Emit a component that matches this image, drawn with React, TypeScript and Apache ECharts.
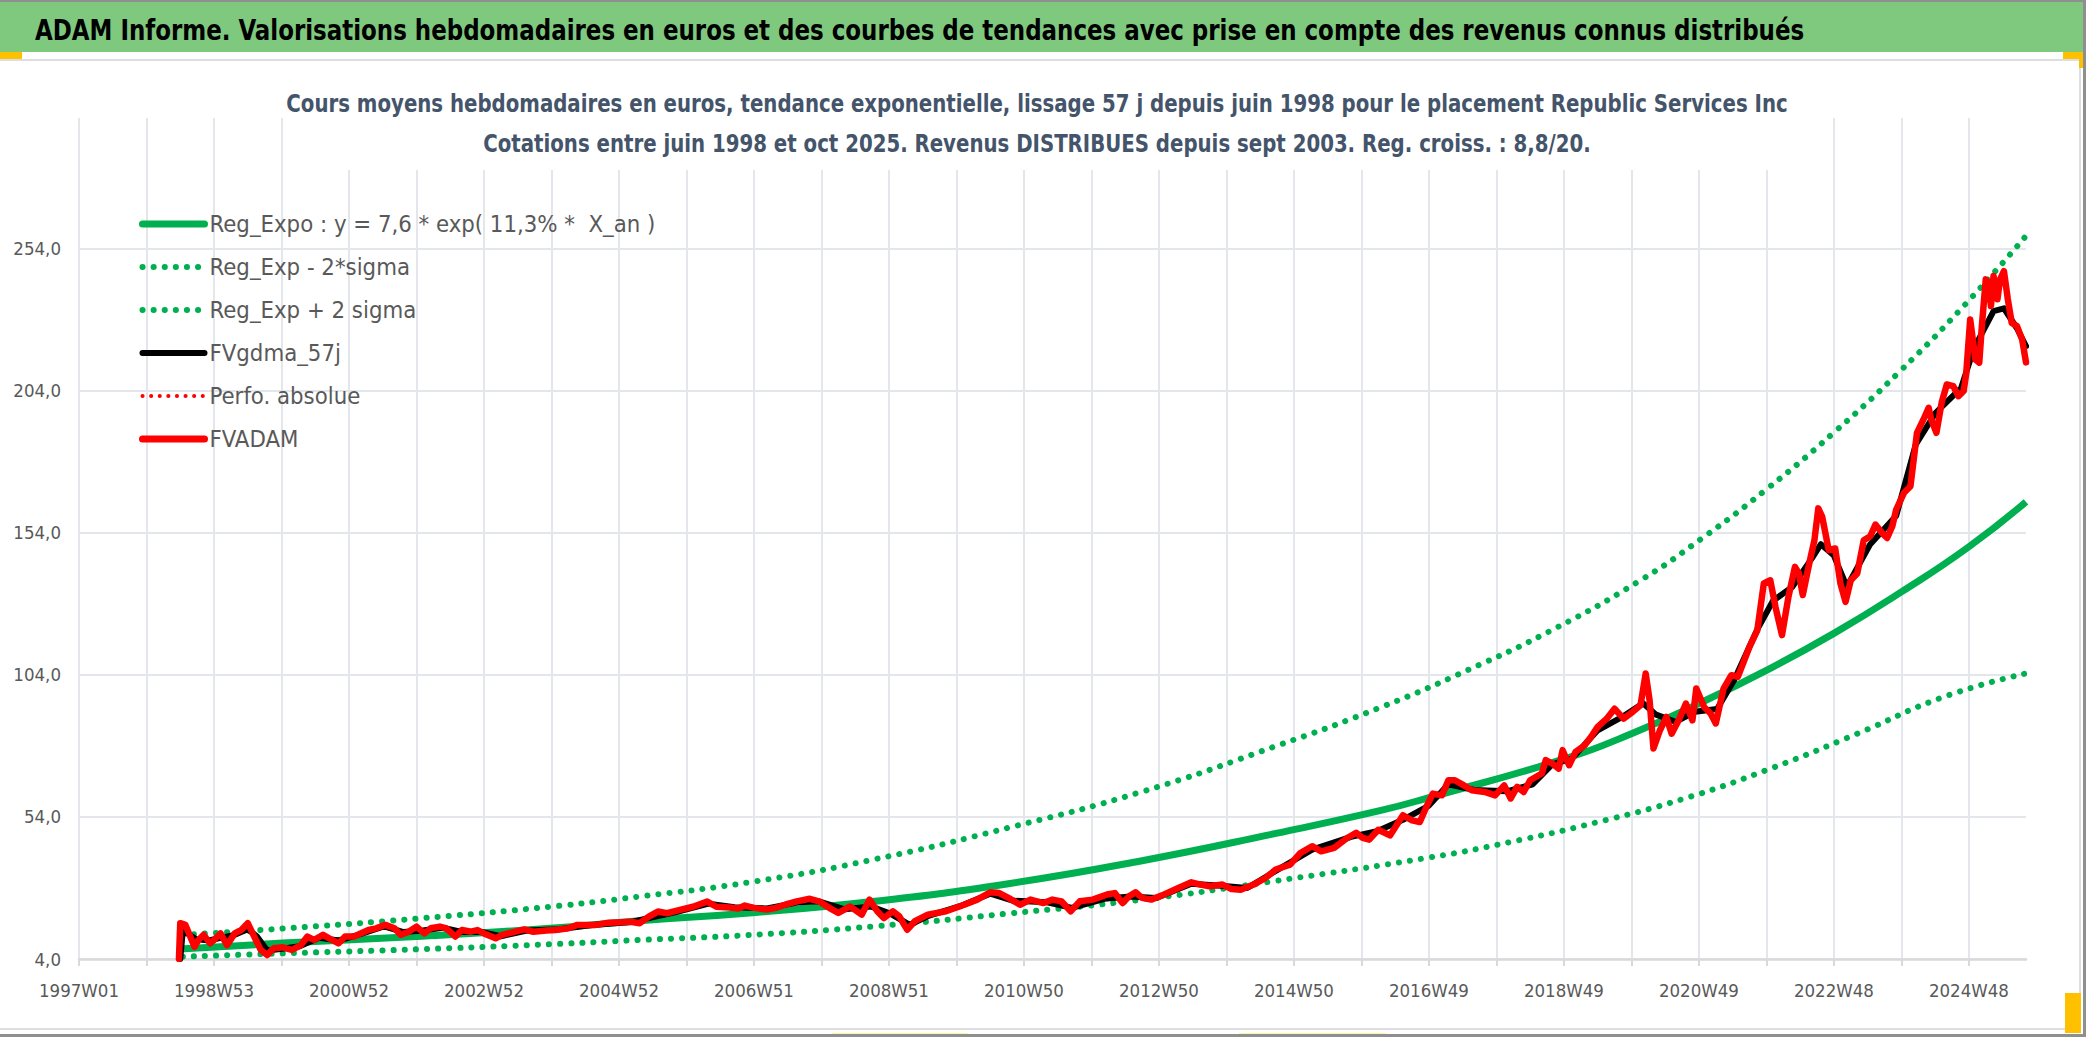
import React, { useEffect, useRef } from "react";
import * as echarts from "echarts";

const TITLE =
  "ADAM Informe. Valorisations hebdomadaires en euros et des courbes de tendances avec prise en compte des revenus connus distribués";
const SUB1 =
  "Cours moyens hebdomadaires en euros, tendance exponentielle, lissage 57 j depuis juin 1998 pour le placement Republic Services Inc";
const SUB2 =
  "Cotations entre juin 1998 et oct 2025. Revenus DISTRIBUES depuis sept 2003. Reg. croiss. : 8,8/20.";

const NAMES = [
  "Reg_Expo : y = 7,6 * exp( 11,3% *  X_an )",
  "Reg_Exp - 2*sigma",
  "Reg_Exp + 2 sigma",
  "FVgdma_57j",
  "Perfo. absolue",
  "FVADAM",
];

// ISO weekly categories, 1997W01 .. 2025W40
const FIRST_YEAR = 1997;
const LAST_YEAR = 2025;
const LAST_WEEK = 40;
const YEARS_53 = [1998, 2004, 2009, 2015, 2020];
const CATS: string[] = [];
for (let y = FIRST_YEAR; y <= LAST_YEAR; y++) {
  const n = y === LAST_YEAR ? LAST_WEEK : YEARS_53.includes(y) ? 53 : 52;
  for (let w = 1; w <= n; w++) CATS.push(`${y}W${String(w).padStart(2, "0")}`);
}

// Y axis ticks
const Y_MIN = 4;
const Y_MAX = 300;
const Y_STEP = 50;

// [week index from 1997W01, value in euros]
const FVADAM_PTS: [number, number][] = [
  [77, 4], [78, 16.6], [82, 16.0], [89, 8.3], [92, 10.7], [96, 12.5], [101, 9.5], [104, 10.7],
  [109, 13.0], [114, 8.9], [120, 13.0], [125, 14.2], [130, 16.6], [135, 11.9], [140, 7.2],
  [145, 5.4], [150, 7.8], [157, 8.1], [164, 7.2], [171, 8.9], [176, 11.9], [181, 10.7],
  [188, 12.5], [195, 10.7], [200, 9.5], [205, 11.9], [212, 11.9], [217, 13.0], [223, 14.2],
  [229, 14.8], [236, 16.0], [243, 14.8], [248, 12.5], [254, 13.6], [260, 15.4], [266, 13.0],
  [271, 14.8], [278, 15.4], [283, 14.8], [290, 11.9], [295, 14.2], [302, 13.6], [307, 14.2],
  [312, 13.0], [321, 11.3], [326, 12.5], [333, 13.3], [343, 14.4], [350, 13.6], [360, 14.0],
  [367, 14.2], [377, 14.8], [384, 16.0], [398, 16.0], [408, 16.8], [418, 16.9], [425, 17.1],
  [432, 16.6], [439, 18.9], [446, 20.7], [453, 20.1], [463, 21.3], [473, 22.4], [484, 24.2],
  [491, 22.4], [501, 22.1], [508, 21.8], [513, 22.8], [520, 22.0], [530, 21.4], [537, 22.0],
  [544, 23.1], [553, 24.3], [563, 25.2], [570, 24.3], [578, 22.0], [585, 20.2], [594, 22.5],
  [603, 19.6], [609, 24.9], [615, 20.8], [620, 18.4], [627, 20.8], [632, 19.0], [638, 14.3],
  [644, 17.3], [654, 19.6], [668, 20.8], [682, 23.1], [692, 24.9], [702, 27.5], [709, 27.2],
  [716, 25.5], [725, 23.1], [733, 24.9], [743, 23.7], [750, 24.9], [757, 24.3], [764, 20.8],
  [771, 24.3], [781, 24.9], [792, 26.7], [798, 27.2], [804, 23.7], [809, 26.1], [814, 27.5],
  [819, 25.5], [826, 24.9], [836, 26.7], [847, 29.0], [857, 31.0], [864, 30.2], [871, 29.6],
  [881, 30.2], [888, 28.6], [895, 28.4], [905, 30.2], [914, 32.5], [922, 35.5], [933, 37.2],
  [941, 41.3], [950, 43.7], [957, 41.9], [967, 43.1], [977, 46.6], [984, 48.4], [989, 46.6],
  [994, 46.0], [1001, 49.5], [1010, 47.5], [1020, 54.6], [1027, 52.8], [1033, 52.2],
  [1038, 57.5], [1043, 62.2], [1050, 61.6], [1055, 66.9], [1060, 66.9], [1067, 65.1],
  [1073, 63.4], [1083, 62.8], [1091, 61.6], [1098, 65.1], [1103, 60.5], [1108, 64.6],
  [1113, 62.8], [1118, 66.9], [1127, 69.3], [1130, 74.0], [1135, 72.8], [1140, 71.0],
  [1143, 77.5], [1148, 72.2], [1153, 76.9], [1160, 79.2], [1165, 82.2], [1170, 85.7],
  [1177, 88.6], [1183, 92.1], [1190, 88.6], [1197, 91.0], [1203, 93.3], [1207, 104.5],
  [1210, 95.1], [1213, 78.1], [1218, 84.5], [1223, 89.2], [1227, 83.3], [1233, 88.6],
  [1238, 93.9], [1243, 88.0], [1246, 99.2], [1252, 92.7], [1257, 90.4], [1261, 86.9],
  [1267, 99.2], [1273, 103.9], [1278, 103.3], [1287, 113.9], [1293, 119.7], [1298, 136.2],
  [1303, 137.3], [1307, 127.9], [1312, 118.0], [1317, 131.5], [1322, 142.0], [1325, 139.7],
  [1328, 132.1], [1333, 143.2], [1337, 151.4], [1340, 162.6], [1343, 159.6], [1348, 147.9],
  [1353, 148.5], [1357, 136.2], [1361, 129.7], [1365, 137.3], [1370, 139.7], [1375, 151.4],
  [1380, 152.8], [1384, 156.9], [1389, 154.0], [1393, 152.2], [1397, 156.3], [1400, 162.2],
  [1406, 168.1], [1411, 170.4], [1416, 189.2], [1421, 193.9], [1425, 198.0], [1427, 193.9],
  [1431, 189.2], [1435, 199.8], [1439, 206.2], [1444, 205.6], [1448, 202.1], [1452, 203.9],
  [1454, 210.3], [1457, 229.1], [1461, 215.0], [1464, 213.9], [1466, 226.8], [1469, 243.2],
  [1471, 242.0], [1473, 233.8], [1475, 244.4], [1478, 236.2], [1480, 243.2], [1483, 246.1],
  [1486, 236.2], [1489, 227.9], [1493, 226.8], [1497, 222.1], [1500, 214.0],
];

const FVGDMA_PTS: [number, number][] = [
  [78, 4], [80, 14], [90, 11], [100, 10.5], [110, 11.5], [120, 12.5], [130, 14.5], [137, 12],
  [145, 7], [155, 7.5], [170, 8.5], [185, 11.5], [200, 10.5], [215, 12.5], [235, 15.5],
  [250, 13.5], [265, 14], [280, 15], [295, 13.5], [310, 13.5], [325, 12], [345, 14],
  [370, 14.5], [395, 16], [425, 17], [440, 18.5], [460, 20.5], [485, 23.5], [505, 22.2],
  [530, 21.8], [555, 24], [570, 24.3], [590, 21.5], [610, 22.5], [625, 20], [640, 16],
  [655, 19.3], [680, 22.8], [702, 27], [720, 24.5], [745, 24], [765, 22], [790, 25.2],
  [810, 26], [830, 25.5], [857, 30.5], [880, 29.8], [900, 29], [922, 35], [950, 42.5],
  [980, 47], [1000, 49], [1020, 53], [1040, 58], [1055, 65.5], [1075, 63.5], [1100, 63],
  [1120, 65.5], [1135, 72.5], [1150, 74.5], [1170, 84.5], [1190, 89.5], [1205, 94],
  [1215, 90], [1230, 87.5], [1245, 91], [1262, 92], [1275, 102], [1293, 120], [1305, 130],
  [1320, 135], [1335, 145], [1342, 150], [1352, 146], [1362, 135], [1380, 150], [1400, 160],
  [1415, 185], [1430, 196], [1450, 205], [1460, 219], [1475, 232], [1483, 233], [1493, 226],
  [1500, 219.7],
];

const REG_PTS: [number, number][] = [
  [78, 7.5], [157, 9.6], [260, 11.9], [363, 14.8], [432, 17.5], [519, 20.3], [613, 24.3],
  [716, 30.5], [819, 38.6], [922, 48.2], [1003, 56.3], [1040, 60.8], [1145, 74.5],
  [1196, 83.3], [1248, 93.9], [1300, 105.6], [1352, 118.6], [1404, 133.2], [1456, 149.1],
  [1500, 164.9],
];

const REG_LOW_PTS: [number, number][] = [
  [80, 4.8], [157, 6.0], [260, 7.4], [363, 9.2], [432, 10.7], [515, 12.4], [613, 15.5],
  [716, 20.0], [819, 24.9], [922, 31.5], [1040, 39.7], [1103, 45.2], [1170, 52.2],
  [1237, 60.5], [1303, 71.0], [1370, 83.3], [1437, 96.3], [1500, 104.5],
];

const REG_HIGH_PTS: [number, number][] = [
  [80, 12.5], [157, 14.7], [260, 18.2], [363, 22.4], [432, 26.0], [519, 31.2], [613, 39.1],
  [716, 50.2], [819, 62.9], [922, 78.9], [1004, 92.8], [1070, 105.7], [1137, 120.3],
  [1203, 137.3], [1249, 151.6], [1300, 169.3], [1351, 188.9], [1403, 210.9], [1454, 234.8],
  [1500, 258.5],
];

const NARROW = "'Liberation Sans Narrow', 'Arial Narrow', 'DejaVu Sans Condensed', Lato, sans-serif";
const GREEN = "#00B050";
const RED = "#FF0000";
const AXIS_TEXT = "#595959";
const SUB_TEXT = "#44546A";
const GRID_COLOR = "#E3E6EB";

function measure(text: string, font: string): number {
  const ctx = document.createElement("canvas").getContext("2d");
  if (!ctx) return 1;
  ctx.font = font;
  return ctx.measureText(text).width || 1;
}

const toSeries = (pts: [number, number][]) => pts.map(([w, v]) => [CATS[w], v]);

export default function App() {
  const ref = useRef<HTMLDivElement>(null);

  useEffect(() => {
    const el = ref.current;
    if (!el) return;
    const chart = echarts.init(el, null, { renderer: "svg" });

    const titleSize = 29;
    const titleScale = 1770 / measure(TITLE, `bold ${titleSize}px ${NARROW}`);
    const subSize = 24;
    const subScale = 1502 / measure(SUB1, `bold ${subSize}px ${NARROW}`);

    const dotted = (w: number, gap: number) => ({
      width: w,
      type: [0.1, gap] as any,
      cap: "round" as const,
    });
    const solid = (w: number) => ({ width: w, type: "solid", cap: "round" as const, join: "round" as const });

    const option: any = {
      animation: false,
      backgroundColor: "#ffffff",
      grid: { left: 79, right: 60, top: 118, bottom: 78, containLabel: false },
      legend: {
        show: true,
        orient: "vertical",
        left: 134,
        top: 207,
        itemWidth: 62,
        itemHeight: 14,
        itemGap: 19,
        selectedMode: false,
        itemStyle: { opacity: 0 },
        data: [
          { name: NAMES[0], lineStyle: { ...solid(7), color: GREEN } },
          { name: NAMES[1], lineStyle: { ...dotted(6, 11), color: GREEN } },
          { name: NAMES[2], lineStyle: { ...dotted(6, 11), color: GREEN } },
          { name: NAMES[3], lineStyle: { ...solid(6), color: "#000000" } },
          { name: NAMES[4], lineStyle: { ...dotted(4, 8.5), color: RED } },
          { name: NAMES[5], lineStyle: { ...solid(7), color: RED } },
        ],
        textStyle: { fontSize: 23.7, lineHeight: 24, color: AXIS_TEXT, fontFamily: NARROW },
      },
      xAxis: {
        type: "category",
        data: CATS,
        boundaryGap: false,
        axisLine: { show: true, lineStyle: { color: "#D9D9D9", width: 2.5 } },
        axisTick: { show: true, interval: 51, length: 7, lineStyle: { color: "#D9D9D9", width: 2 } },
        axisLabel: {
          interval: 103,
          fontSize: 18.5,
          margin: 22,
          color: AXIS_TEXT,
          fontFamily: NARROW,
        },
        splitLine: { show: true, interval: 51, lineStyle: { color: GRID_COLOR, width: 2 } },
      },
      yAxis: {
        type: "value",
        min: Y_MIN,
        max: Y_MAX,
        interval: Y_STEP,
        axisLine: { show: false },
        axisTick: { show: false },
        axisLabel: {
          fontSize: 18.5,
          margin: 18,
          color: AXIS_TEXT,
          fontFamily: NARROW,
          showMaxLabel: false,
          formatter: (v: number) => v.toFixed(1).replace(".", ","),
        },
        splitLine: { show: true, showMaxLine: false, lineStyle: { color: GRID_COLOR, width: 2 } },
      },
      series: [
        {
          name: NAMES[0],
          type: "line",
          data: toSeries(REG_PTS),
          smooth: true,
          symbol: "none",
          lineStyle: { color: GREEN, width: 7 },
          itemStyle: { color: GREEN },
          z: 2,
        },
        {
          name: NAMES[1],
          type: "line",
          data: toSeries(REG_LOW_PTS),
          smooth: true,
          symbol: "none",
          lineStyle: { color: GREEN, ...dotted(6, 11) },
          itemStyle: { color: GREEN },
          z: 2,
        },
        {
          name: NAMES[2],
          type: "line",
          data: toSeries(REG_HIGH_PTS),
          smooth: true,
          symbol: "none",
          lineStyle: { color: GREEN, ...dotted(6, 11) },
          itemStyle: { color: GREEN },
          z: 2,
        },
        {
          name: NAMES[3],
          type: "line",
          data: toSeries(FVGDMA_PTS),
          symbol: "none",
          lineStyle: { color: "#000000", width: 6, join: "round", cap: "round" },
          itemStyle: { color: "#000000" },
          z: 3,
        },
        {
          name: NAMES[4],
          type: "line",
          data: toSeries(FVADAM_PTS),
          symbol: "none",
          lineStyle: { color: RED, ...dotted(4, 8.5) },
          itemStyle: { color: RED },
          z: 3,
        },
        {
          name: NAMES[5],
          type: "line",
          data: toSeries(FVADAM_PTS),
          symbol: "none",
          lineStyle: { color: RED, width: 6.5, join: "round", cap: "round" },
          itemStyle: { color: RED },
          z: 4,
        },
      ],
      graphic: [
        { type: "rect", z: 50, shape: { x: 0, y: 0, width: 2086, height: 52 }, style: { fill: "#7FC97F" } },
        { type: "rect", z: 51, shape: { x: 0, y: 0, width: 2086, height: 2 }, style: { fill: "#8F8F8F" } },
        {
          type: "text",
          z: 52,
          x: 35,
          y: 30,
          scaleX: titleScale,
          style: {
            text: TITLE,
            fontSize: titleSize,
            fontWeight: "bold",
            fontFamily: NARROW,
            fill: "#000000",
            align: "left",
            verticalAlign: "middle",
          },
        },
        { type: "rect", z: 50, shape: { x: 0, y: 52, width: 22, height: 7 }, style: { fill: "#FFC000" } },
        { type: "rect", z: 50, shape: { x: 2063, y: 52, width: 20, height: 7 }, style: { fill: "#FFC000" } },
        { type: "rect", z: 50, shape: { x: 2079, y: 52, width: 4, height: 16 }, style: { fill: "#FFC000" } },
        { type: "rect", z: 49, shape: { x: 0, y: 59, width: 2080, height: 2 }, style: { fill: "#DCDEE2" } },
        { type: "rect", z: 49, shape: { x: 2079, y: 59, width: 2, height: 971 }, style: { fill: "#DCDEE2" } },
        { type: "rect", z: 49, shape: { x: 0, y: 1028, width: 2080, height: 2 }, style: { fill: "#DCDEE2" } },
        { type: "rect", z: 50, shape: { x: 2065, y: 993, width: 16, height: 40 }, style: { fill: "#FFC000" } },
        { type: "rect", z: 50, shape: { x: 832, y: 1033, width: 136, height: 4 }, style: { fill: "#FFF59D" } },
        { type: "rect", z: 50, shape: { x: 1239, y: 1033, width: 147, height: 4 }, style: { fill: "#FFF59D" } },
        { type: "rect", z: 51, shape: { x: 0, y: 1034, width: 2086, height: 3 }, style: { fill: "#8F8F8F" } },
        { type: "rect", z: 51, shape: { x: 2083, y: 0, width: 3, height: 1037 }, style: { fill: "#8F8F8F" } },
        // chart title box (covers gridlines like the Excel title)
        { type: "rect", z: 40, shape: { x: 284, y: 62, width: 1516, height: 108 }, style: { fill: "#ffffff" } },
        {
          type: "text",
          z: 41,
          x: 1037,
          y: 104,
          scaleX: subScale,
          style: {
            text: SUB1,
            fontSize: subSize,
            fontWeight: "bold",
            fontFamily: NARROW,
            fill: SUB_TEXT,
            align: "center",
            verticalAlign: "middle",
          },
        },
        {
          type: "text",
          z: 41,
          x: 1037,
          y: 144,
          scaleX: subScale,
          style: {
            text: SUB2,
            fontSize: subSize,
            fontWeight: "bold",
            fontFamily: NARROW,
            fill: SUB_TEXT,
            align: "center",
            verticalAlign: "middle",
          },
        },
      ],
    };

    chart.setOption(option);
    return () => chart.dispose();
  }, []);

  return (
    <div
      ref={ref}
      style={{ position: "fixed", left: 0, top: 0, width: 2086, height: 1037, background: "#ffffff" }}
    />
  );
}
